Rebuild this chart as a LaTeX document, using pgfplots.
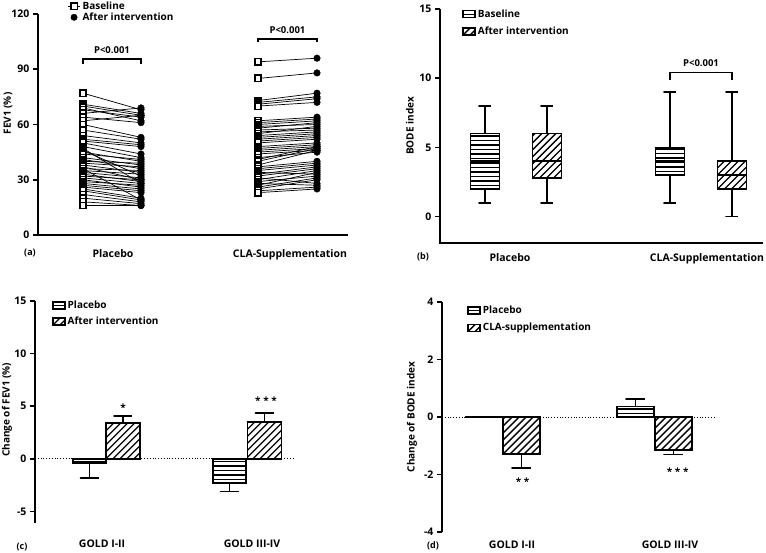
\documentclass[border=0pt]{standalone}
\usepackage{fontspec}
\setmainfont{Open Sans}
\usepackage{pgfplots}
\usepackage{pgfplotstable}
\pgfplotsset{compat=1.18}

% FEV1 (%) per patient, baseline vs after intervention
\pgfplotstableread{
base after
77 68
71 66
70 65
69 62
68 64
66 69
64 61
62 65
60 53
57 52
54 50
52 49
51 48
50 44
48 42
47 28
46 32
45 40
44 41
42 38
41 36
40 39
39 37
38 34
37 30
36 35
36 19
35 33
34 31
33 29
32 30
31 28
30 26
29 27
28 25
27 24
26 23
25 20
24 19
22 18
20 17
18 16
16 16
}\placebo
\pgfplotstableread{
base after
94 96
85 88
73 77
72 75
71 74
70 72
62 64
61 63
60 62
59 60
58 61
57 58
56 57
55 59
54 56
53 55
52 54
51 53
50 52
48 50
47 49
46 48
45 47
44 46
42 45
41 48
40 47
38 46
37 40
36 39
35 38
34 33
33 37
32 36
31 28
30 35
29 32
28 27
27 34
26 31
25 30
24 26
23 25
}\cla

% hatching drawn inside the shape with basic-layer strokes (no pdf patterns)
\newdimen\hx \newdimen\hy
\newcommand\sw{\pgfpointanchor{path picture bounding box}{south west}}
\newcommand\hatchok[1]{\pgfextractx{\hx}{\sw}\pgfextracty{\hy}{\sw}%
  \ifdim\hx<5000pt \ifdim\hx>-5000pt \ifdim\hy<5000pt \ifdim\hy>-5000pt #1\fi\fi\fi\fi}
\tikzset{
  hz/.style={path picture={\hatchok{\pgfsetlinewidth{1.3pt}\pgfsetdash{}{0pt}\pgfsetstrokecolor{black}%
    \foreach \k in {0,...,40}{%
      \pgfpathmoveto{\pgfpointadd{\sw}{\pgfpoint{-2pt}{\k*4.5pt-1pt}}}%
      \pgfpathlineto{\pgfpointadd{\sw}{\pgfpoint{300pt}{\k*4.5pt-1pt}}}}%
    \pgfusepath{stroke}}}},
  dg/.style={path picture={\hatchok{\pgfsetlinewidth{1.3pt}\pgfsetdash{}{0pt}\pgfsetstrokecolor{black}%
    \foreach \k in {-40,...,45}{%
      \pgfpathmoveto{\pgfpointadd{\sw}{\pgfpoint{\k*7pt}{0pt}}}%
      \pgfpathlineto{\pgfpointadd{\sw}{\pgfpoint{\k*7pt+250pt}{250pt}}}}%
    \pgfusepath{stroke}}}},
}
\pgfplotsset{
  panel/.style={
    scale only axis, clip=false, anchor=south west,
    axis x line*=bottom, axis y line*=left,
    axis line style={-, line width=1.6pt},
    tick align=outside, major tick length=5pt,
    ytick style={black, line width=1.6pt},
    xtick style={draw=none},
    font=\bfseries\fontsize{10.5}{12}\selectfont,
    /pgf/number format/assume math mode=true,
    ylabel style={anchor=center, font=\bfseries\fontsize{10}{12}\selectfont},
    legend style={draw=none, fill=none, anchor=north west,
      font=\bfseries\fontsize{10}{12}\selectfont},
    legend cell align=left,
  },
  boxleg/.style={legend image code/.code={
    \draw[##1, line width=1.5pt] (0pt,-3.5pt) rectangle (12pt,3.5pt);}},
  bars/.style={forget plot, ybar, bar shift=0pt, draw=black, line width=1.6pt},
  ln/.style={forget plot, black, line width=1.6pt, no markers},
  wh/.style={ln, line join=round},
  bx/.style={ln, line cap=rect},
}
\newcommand\stars{\bfseries\fontsize{10}{12}\selectfont}

\begin{document}
\begin{tikzpicture}
\path[use as bounding box] (0pt,0pt) rectangle (766pt,553pt);

% (a) FEV1 before/after
\begin{axis}[panel, at={(38pt,318pt)}, width=310pt, height=221pt,
  xmin=0, xmax=310, ymin=0, ymax=120, ytick={0,30,60,90,120},
  xtick={75,252}, xticklabels={Placebo,CLA-Supplementation},
  xticklabel style={yshift=-6pt},
  ylabel={FEV1 (\%)}, ylabel style={at={(axis description cs:-0.097,0.55)}},
  legend style={at={(axis description cs:0.085,1.075)}, row sep=-2pt},
  legend image code/.code={\draw[mark repeat=2,mark phase=2,#1]
    plot coordinates {(0pt,0pt) (6pt,0pt) (12pt,0pt)};}]
\addlegendimage{black, line width=1pt, mark=square*, mark size=3.2pt,
  mark options={fill=white, line width=1.4pt}}
\addlegendentry{Baseline}
\addlegendimage{black, only marks, mark=*, mark size=3.2pt}
\addlegendentry{After intervention}
\addplot[forget plot, only marks, mark=square*, mark size=3.2pt,
  mark options={fill=white, draw=black, line width=1.5pt}]
  table[x expr=45, y=base]{\placebo};
\addplot[forget plot, only marks, mark=square*, mark size=3.2pt,
  mark options={fill=white, draw=black, line width=1.5pt}]
  table[x expr=220, y=base]{\cla};
\addplot[forget plot, black, line width=0.7pt, quiver={u=58, v=\thisrow{after}-\thisrow{base}}]
  table[x expr=45, y=base]{\placebo};
\addplot[forget plot, black, line width=0.7pt, quiver={u=59, v=\thisrow{after}-\thisrow{base}}]
  table[x expr=220, y=base]{\cla};
\addplot[forget plot, only marks, mark=*, mark size=3.3pt, black]
  table[x expr=103, y=after]{\placebo};
\addplot[forget plot, only marks, mark=*, mark size=3.3pt, black]
  table[x expr=279, y=after]{\cla};
\draw[line width=1.2pt] (axis cs:45,93) |- (axis cs:103,95.6) -- (axis cs:103,93);
\node[font=\bfseries\fontsize{9.5}{11}\selectfont] at (axis cs:74,100.5) {P<0.001};
\draw[line width=1.2pt] (axis cs:220,104.8) |- (axis cs:279,106.4) -- (axis cs:279,104.8);
\node[font=\bfseries\fontsize{9.5}{11}\selectfont] at (axis cs:249.5,111.5) {P<0.001};
\end{axis}

% (b) BODE index box plots: box (quartiles), median, whiskers with caps
\begin{axis}[panel, at={(440pt,310pt)}, width=323pt, height=234pt,
  xmin=0, xmax=323, ymin=-1.9, ymax=15, ytick={0,5,10,15},
  xtick={70,267}, xticklabels={Placebo,CLA-Supplementation},
  xticklabel style={yshift=-2pt},
  ylabel={BODE index}, ylabel style={at={(axis description cs:-0.093,0.5)}},
  legend style={at={(axis description cs:0.06,1.015)}, row sep=4pt}, boxleg]
\addlegendimage{black, hz}
\addlegendentry{Baseline}
\addlegendimage{black, dg}
\addlegendentry{After intervention}
% placebo, baseline
\addplot[bx, hz] coordinates {(30.5,2) (59.5,2) (59.5,6) (30.5,6) (30.5,2)};
\addplot[ln] coordinates {(30.5,4) (59.5,4)};
\addplot[wh] coordinates {(45,6) (45,8) (39,8) (51,8)};
\addplot[wh] coordinates {(45,2) (45,1) (39,1) (51,1)};
% placebo, after
\addplot[bx, dg] coordinates {(92.5,2.8) (121.5,2.8) (121.5,6) (92.5,6) (92.5,2.8)};
\addplot[ln] coordinates {(92.5,4) (121.5,4)};
\addplot[wh] coordinates {(107,6) (107,8) (101,8) (113,8)};
\addplot[wh] coordinates {(107,2.8) (107,1) (101,1) (113,1)};
% CLA, baseline
\addplot[bx, hz] coordinates {(215.5,3) (244.5,3) (244.5,5) (215.5,5) (215.5,3)};
\addplot[ln] coordinates {(215.5,4) (244.5,4)};
\addplot[wh] coordinates {(230,5) (230,9) (224,9) (236,9)};
\addplot[wh] coordinates {(230,3) (230,1) (224,1) (236,1)};
% CLA, after
\addplot[bx, dg] coordinates {(277.5,2) (306.5,2) (306.5,4) (277.5,4) (277.5,2)};
\addplot[ln] coordinates {(277.5,3) (306.5,3)};
\addplot[wh] coordinates {(292,4) (292,9) (286,9) (298,9)};
\addplot[wh] coordinates {(292,2) (292,0) (286,0) (298,0)};
\draw[line width=1.2pt] (axis cs:230,9.9) |- (axis cs:292,10.4) -- (axis cs:292,9.9);
\node[font=\bfseries\fontsize{9.5}{11}\selectfont] at (axis cs:261,11.1) {P<0.001};
\end{axis}

% (c) change of FEV1, mean with SEM
\begin{axis}[panel, at={(35pt,30pt)}, width=258pt, height=222pt,
  xmin=0, xmax=258, ymin=-6.1, ymax=15, ytick={-5,0,5,10,15},
  x axis line style={draw=none},
  xtick={67,217}, xticklabels={GOLD I-II,GOLD III-IV},
  xticklabel style={yshift=-8pt},
  ylabel={Change of FEV1 (\%)}, ylabel style={at={(axis description cs:-0.109,0.51)}},
  legend style={at={(axis description cs:0.055,1.02)}, row sep=3pt}, boxleg]
\addlegendimage{black, hz}
\addlegendentry{Placebo}
\addlegendimage{black, dg}
\addlegendentry{After intervention}
\draw[dotted, line width=0.8pt] (axis cs:0,0) -- (axis cs:258,0);
\addplot[bars, bar width=33, hz] coordinates {(54.5,-0.4) (194.5,-2.3)};
\addplot[bars, bar width=34, dg] coordinates {(88,3.4) (229.5,3.5)};
\addplot[wh] coordinates {(54.5,-0.4) (54.5,-1.8) (45.5,-1.8) (63.5,-1.8)};
\addplot[wh] coordinates {(194.5,-2.3) (194.5,-3.1) (185.5,-3.1) (203.5,-3.1)};
\addplot[wh] coordinates {(88,3.4) (88,4.05) (79,4.05) (97,4.05)};
\addplot[wh] coordinates {(229.5,3.5) (229.5,4.35) (220.5,4.35) (238.5,4.35)};
\node[anchor=base, font=\stars] at (axis cs:88,4.5) {*};
\node[anchor=base, font=\stars] at (axis cs:231,5.2) {* * *};
\end{axis}

% (d) change of BODE index, mean with SEM
\begin{axis}[panel, at={(442pt,21pt)}, width=273pt, height=230pt,
  xmin=0, xmax=273, ymin=-4, ymax=4, ytick={-4,-2,0,2,4},
  x axis line style={draw=none},
  xtick={70,228}, xticklabels={GOLD I-II,GOLD III-IV},
  xticklabel style={yshift=0pt},
  ylabel={Change of BODE index}, ylabel style={at={(axis description cs:-0.11,0.5)}},
  legend style={at={(axis description cs:0.082,1.0)}, row sep=4pt}, boxleg]
\addlegendimage{black, hz}
\addlegendentry{Placebo}
\addlegendimage{black, dg}
\addlegendentry{CLA-supplementation}
\draw[dotted, line width=0.8pt] (axis cs:0,0) -- (axis cs:273,0);
\addplot[bars, bar width=37] coordinates {(41.5,0)};
\addplot[bars, bar width=37, hz] coordinates {(193.5,0.37)};
\addplot[bars, bar width=37, dg] coordinates {(79.5,-1.29) (231.5,-1.14)};
\addplot[wh] coordinates {(193.5,0.37) (193.5,0.63) (184,0.63) (203,0.63)};
\addplot[wh] coordinates {(79.5,-1.29) (79.5,-1.77) (70,-1.77) (89,-1.77)};
\addplot[wh] coordinates {(231.5,-1.14) (231.5,-1.30) (222,-1.30) (241,-1.30)};
\node[anchor=base, font=\stars] at (axis cs:80.7,-2.39) {* *};
\node[anchor=base, font=\stars] at (axis cs:235.7,-2.02) {* * *};
\end{axis}

% axis lines of panels (b)-(d)
\draw[line width=1.6pt] (440pt,544pt) -- (440pt,310pt) -- (763pt,310pt);
\draw[line width=1.6pt] (35pt,252.3pt) -- (35pt,30pt);
\draw[line width=1.6pt] (442pt,251pt) -- (442pt,21pt);

\node[font=\bfseries\fontsize{9}{10}\selectfont] at (30pt,300pt) {(a)};
\node[font=\bfseries\fontsize{9}{10}\selectfont] at (423pt,296pt) {(b)};
\node[font=\bfseries\fontsize{9}{10}\selectfont] at (22pt,6pt) {(c)};
\node[font=\bfseries\fontsize{9}{10}\selectfont] at (433pt,7pt) {(d)};
\end{tikzpicture}
\end{document}
